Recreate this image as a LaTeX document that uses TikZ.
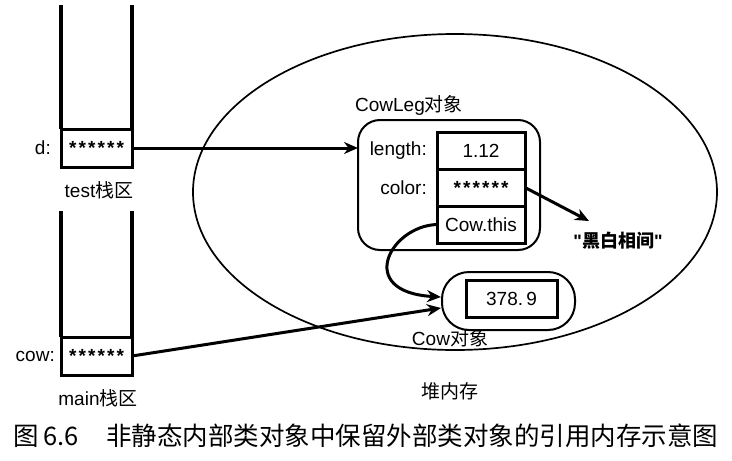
\documentclass[tikz,border=0pt]{standalone}
\usepackage{fontspec}
\setmainfont{Liberation Sans}
\newfontfamily\cjk{Noto Sans CJK SC}
\usetikzlibrary{arrows.meta}
\usetikzlibrary{positioning}

\newcommand\stars{\raisebox{-.28em}{\bfseries*\kern2.1pt*\kern2.1pt*\kern2.1pt*\kern2.1pt*\kern2.1pt*}}

\begin{document}
\begin{tikzpicture}[
            x=1pt, y=-1pt,
            wall/.style={line width=3.2pt},
            cell/.style={draw, line width=3pt, outer sep=0pt, inner sep=0pt,
                         font=\fontsize{19}{22}\selectfont},
            lbl/.style={font=\fontsize{19}{22}\selectfont, inner sep=1pt},
            objbox/.style={draw, line width=2pt, outer sep=0pt},
            ref/.style={line width=3pt, -{Stealth[length=14pt, width=12pt]}},
        ]
            \useasboundingbox (0,0) rectangle (732,461);

            % the two stacks
            \node[cell, minimum width=71, minimum height=38] (dcell) at (96.5,148) {\stars};
            \draw[wall] (dcell.north west) -- ++(0,-124);
            \draw[wall] (dcell.north east) -- ++(0,-124);
            \node[lbl, left=9pt of dcell] (dlbl) {d:};
            \node[lbl] (testlbl) at (99,190) {test{\cjk 栈区}};

            \node[cell, minimum width=71, minimum height=38] (cowcell) at (96.5,356) {\stars};
            \draw[wall] (cowcell.north west) -- ++(0,-126);
            \draw[wall] (cowcell.north east) -- ++(0,-126);
            \node[lbl, left=5pt of cowcell] (cowlbl) {cow:};
            \node[lbl] (mainlbl) at (98,398) {main{\cjk 栈区}};

            % heap
            \draw[line width=1.7pt] (455,192) ellipse [x radius=262, y radius=158];
            \node[lbl] (heaplbl) at (450,391) {\cjk 堆内存};

            % CowLeg object
            \node[objbox, rounded corners=22pt, minimum width=182, minimum height=130] (leg) at (449,185) {};
            \node[lbl] (leglbl) at (409,105) {CowLeg{\cjk 对象}};
            \node[cell, minimum width=88, minimum height=37] (lencell) at (481,150.5) {1.12};
            \node[cell, minimum width=88, minimum height=37, below=0pt of lencell] (colcell) {\stars};
            \node[cell, minimum width=88, minimum height=37, below=0pt of colcell] (thiscell) {Cow.this};
            \node[lbl, left=9pt of lencell] (lenlbl) {length:};
            \node[lbl, left=9pt of colcell] (collbl) {color:};
            \node[lbl, font=\bfseries\fontsize{18}{22}\selectfont] (strlbl) at (618,241) {\textquotedbl{\cjk 黑白相间}\textquotedbl};

            % Cow object
            \node[objbox, rounded corners=27pt, minimum width=133, minimum height=58] (cow) at (508.5,301) {};
            \node[cell, minimum width=91, minimum height=37] (valcell) at (511.5,298.5) {378.\,9};
            \node[lbl] (cowobjlbl) at (450,338) {Cow{\cjk 对象}};
            \coordinate (cowin1) at (441,297);
            \coordinate (cowin2) at (441,308);

            % references
            \draw[ref] (dcell.east) -- (dcell.east -| leg.west);
            \draw[ref] (colcell.east) -- (589,221);
            \draw[ref] (thiscell.west) .. controls (390,226) and (355,292) .. (cowin1);
            \draw[ref] (cowcell.east) -- (cowin2);

            % caption
            \node[font=\cjk\fontsize{25.5}{28}\selectfont] (caption) at (366,436)
                {图\,6.6\hspace{27pt}非静态内部类对象中保留外部类对象的引用内存示意图};
        \end{tikzpicture}
\end{document}
